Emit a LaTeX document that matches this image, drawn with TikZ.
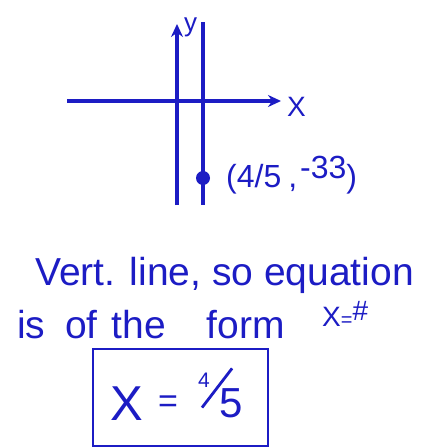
\documentclass[tikz,border=0pt]{standalone}
\usepackage{fontspec}
\setmainfont{Liberation Sans}
\usetikzlibrary{arrows.meta,positioning}
\definecolor{ink}{RGB}{28,28,196}

\begin{document}
\begin{tikzpicture}[
    x=1pt,y=-1pt,
    axis/.style={-{Stealth[length=13pt,width=12pt]},line width=3.2pt,ink},
    vline/.style={line width=3.2pt,ink},
    hand/.style={text=ink,inner sep=0pt,anchor=base west},
    big/.style={font=\fontsize{39}{44}\selectfont}
  ]
    \useasboundingbox (0,0) rectangle (435,447);
    \clip (0,0) rectangle (435,447);
    % axes and the line x = 4/5
    \coordinate (xl) at (67,101); \coordinate (xr) at (281,101);
    \coordinate (yb) at (177,205); \coordinate (yt) at (177,24);
    \coordinate (lt) at (203,22); \coordinate (lb) at (203,205);
    \draw[axis] (xl) -- (xr);
    \draw[axis] (yb) -- (yt);
    \draw[vline] (lt) -- (lb);
    \node[hand,font=\fontsize{26}{26}\selectfont] (ylab) at (184,31) {y};
    \node[hand,font=\fontsize{28}{28}\selectfont] (xlab) at (287,116) {X};
    \node[circle,fill=ink,inner sep=0pt,minimum size=14pt] (pt) at (203,178) {};
    \node[hand,font=\fontsize{32}{32}\selectfont] (ptlab) at (226,187)
      {(4/5\hspace{7pt},\hspace{3pt}\raisebox{9pt}{-33})};
    % the text
    \node[hand,big] (line1) at (35,285) {Vert. line, so equation};
    \node[hand,big] (line2) at (17,338) {is\hspace{9pt} of\hspace{3pt} the\hspace{30pt} form};
    \node[hand,font=\fontsize{28}{28}\selectfont] (form) at (322,326) {X{\fontsize{20}{20}\selectfont=}\raisebox{6pt}{\#}};
    % boxed answer
    \draw[ink,line width=2.2pt] (93,349) rectangle (268,446);
    \node[hand,font=\fontsize{49}{49}\selectfont] (ansx) at (110,420) {X};
    \node[hand,font=\fontsize{34}{34}\selectfont] (anseq) at (158,412) {=};
    \node[hand,font=\fontsize{21}{21}\selectfont] (num) at (198,387) {4};
    \node[hand,font=\fontsize{42}{42}\selectfont] (den) at (219,417) {5};
    \draw[ink,line width=2.8pt] ([xshift=-17pt,yshift=10pt]den.south west) -- ([xshift=22pt,yshift=4pt]num.north east);
  \end{tikzpicture}
\end{document}
